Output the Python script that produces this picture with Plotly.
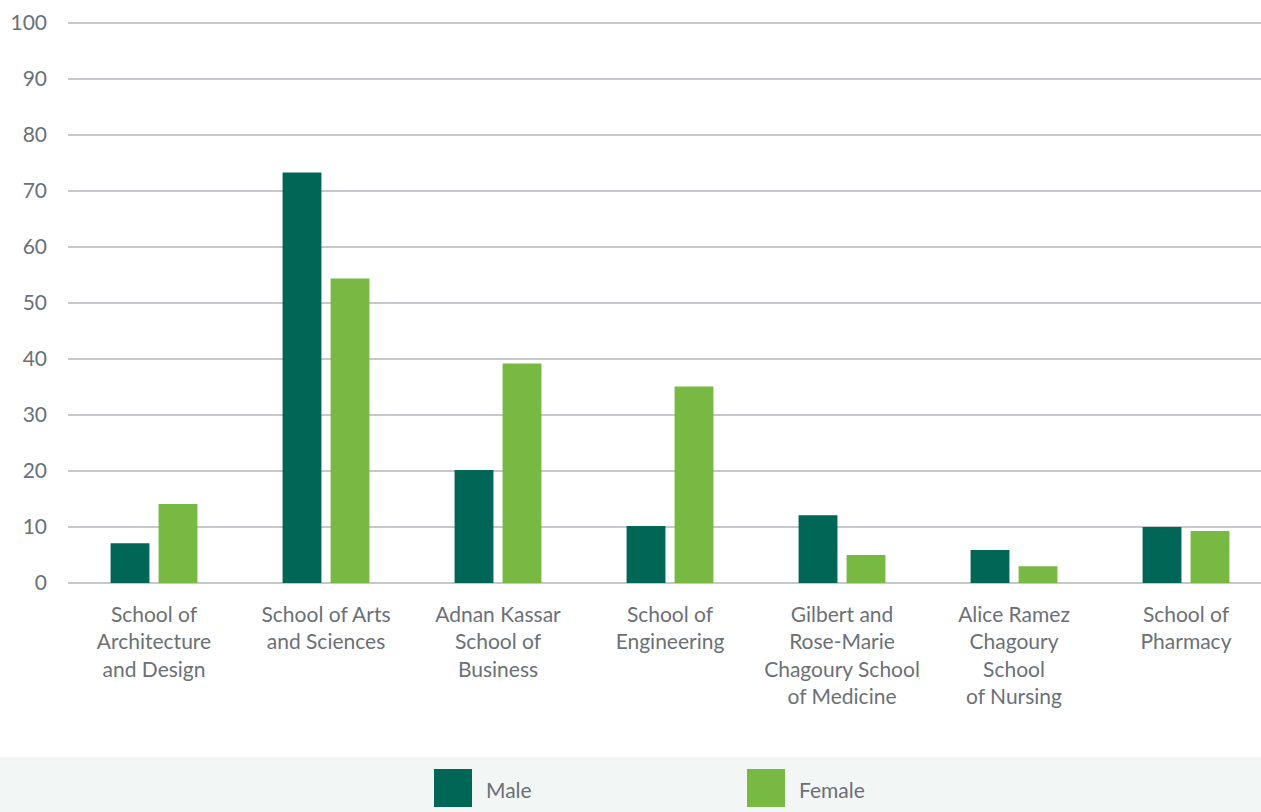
import plotly.graph_objects as go

categories = [
    "School of<br>Architecture<br>and Design",
    "School of Arts<br>and Sciences",
    "Adnan Kassar<br>School of<br>Business",
    "School of<br>Engineering",
    "Gilbert and<br>Rose-Marie<br>Chagoury School<br>of Medicine",
    "Alice Ramez<br>Chagoury<br>School<br>of Nursing",
    "School of<br>Pharmacy",
]
male = [7.1, 73.3, 20.2, 10.2, 12.1, 5.9, 10.0]
female = [14.1, 54.4, 39.2, 35.1, 5.0, 3.0, 9.3]
series_names = ["Male", "Female"]
colors = ["#006656", "#77b943"]
y_ticks = [0, 10, 20, 30, 40, 50, 60, 70, 80, 90, 100]

FONT = "Lato, 'Open Sans', sans-serif"
TXT = "#6b7077"

fig = go.Figure()
for name, vals, col in zip(series_names, [male, female], colors):
    fig.add_trace(go.Bar(x=categories, y=vals, name=name, marker_color=col,
                         marker_line_width=0, showlegend=False))

fig.update_layout(
    width=1261, height=812,
    margin=dict(l=68, r=0, t=22, b=229),
    paper_bgcolor="white", plot_bgcolor="white",
    barmode="group", bargap=0.442, bargroupgap=0.19,
    font=dict(family=FONT, size=21, color=TXT),
    xaxis=dict(showgrid=False, showline=False, ticks="", tickangle=0,
               range=[-0.5, 6.436],
               ticklabelstandoff=17, tickfont=dict(size=21, color=TXT)),
    yaxis=dict(range=[0, 100.2], tickvals=y_ticks, showgrid=True,
               gridcolor="#c5c9cd", gridwidth=1.5, zeroline=True,
               zerolinecolor="#c5c9cd", zerolinewidth=1.5,
               ticks="", ticklabelstandoff=20, tickfont=dict(size=21, color=TXT)),
)

# legend band
fig.add_shape(type="rect", xref="paper", yref="paper", x0=-68/1193, x1=1, y0=-229/561,
              y1=-(757-583)/561, fillcolor="#f2f6f5", line_width=0, layer="below")
# legend entries
leg_x = [434, 747]
for i, (name, col) in enumerate(zip(series_names, colors)):
    x0 = (leg_x[i] - 68) / 1193
    x1 = (leg_x[i] + 38 - 68) / 1193
    fig.add_shape(type="rect", xref="paper", yref="paper", x0=x0, x1=x1,
                  y0=-(807-583)/561, y1=-(769-583)/561, fillcolor=col, line_width=0)
    fig.add_annotation(xref="paper", yref="paper", x=(leg_x[i] + 50 - 68) / 1193,
                       y=-(789-583)/561, text=name, showarrow=False, xanchor="left",
                       yanchor="middle", font=dict(size=21, color=TXT, family=FONT))

fig.write_html("out.html", config={"displayModeBar": False},
               post_script="document.body.style.margin='0';")
